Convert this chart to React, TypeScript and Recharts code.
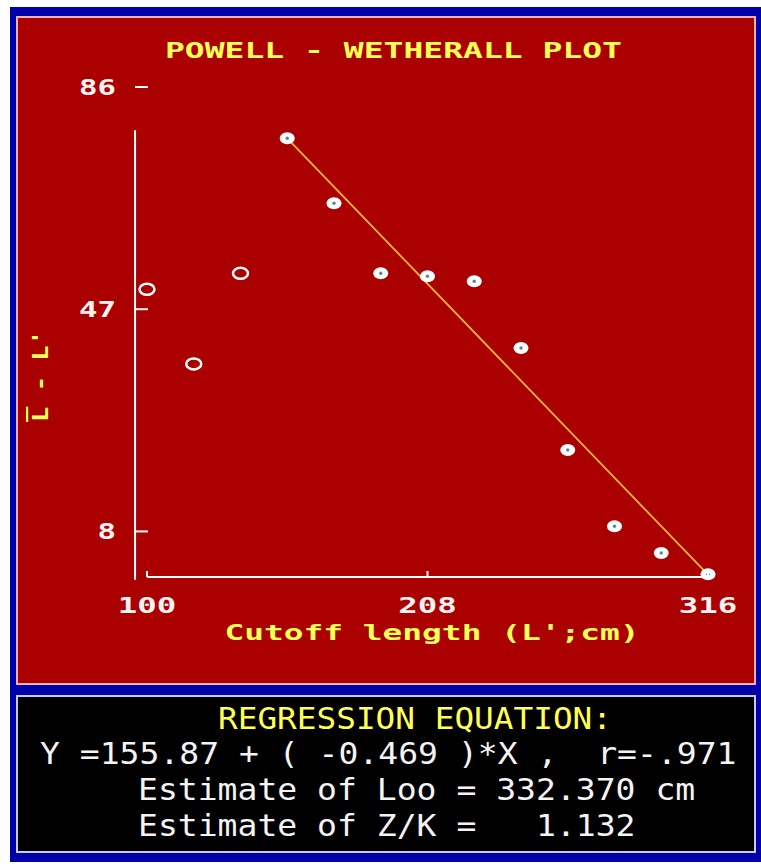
import React from "react";
import { ScatterChart, Scatter, XAxis, YAxis, ReferenceLine } from "recharts";

// Powell-Wetherall plot: mean length above cutoff minus cutoff vs cutoff length.
const cutoffLengths = [100, 118, 136, 154, 172, 190, 208, 226, 244, 262, 280, 298, 316];
const meanMinusCutoff = [50.5, 37.4, 53.3, 77.0, 65.6, 53.3, 52.8, 51.9, 40.2, 22.3, 8.9, 4.2, 0.5];
const usedInFit = [false, false, false, true, true, true, true, true, true, true, true, true, true];

const xTicks = [100, 208, 316];
const yTicks = [8, 47, 86];

// fitted line end points as drawn on the plot
const fitX = [154, 316];
const fitY = [77.0, 0.4];

const equationLines = [
  "Y =155.87 + ( -0.469 )*X ,  r=-.971",
  "Estimate of Loo = 332.370 cm",
  "Estimate of Z/K =   1.132",
];

const RED = "#aa0000";
const YELLOW = "#ffff55";
const DOS_FONT = "'DejaVu Sans Mono', monospace";

const points = cutoffLengths.map((x, i) => ({ x, y: meanMinusCutoff[i], used: usedInFit[i] }));
const excluded = points.filter((p) => !p.used);
const included = points.filter((p) => p.used);
const fitLine = fitX.map((x, i) => ({ x, y: fitY[i] }));

const HollowDot = (props: any) => {
  const { cx, cy } = props;
  return <ellipse cx={cx} cy={cy} rx={7.5} ry={5.5} fill="none" stroke="#fff" strokeWidth={2.5} />;
};

const FilledDot = (props: any) => {
  const { cx, cy } = props;
  return (
    <g>
      <ellipse cx={cx} cy={cy} rx={7.5} ry={6} fill="#fff" />
      <circle cx={cx} cy={cy} r={1.7} fill="#5f8787" />
    </g>
  );
};

const XTick = (props: any) => {
  const { x, y, payload } = props;
  const label = String(payload.value);
  return (
    <g>
      <line x1={x} x2={x} y1={y} y2={y - 6} stroke="#fff" strokeWidth={2} />
      <text
        x={x}
        y={y + 36}
        textAnchor="middle"
        textLength={label.length * 19.5}
        lengthAdjust="spacingAndGlyphs"
        fill="#fff4f4"
        fontFamily={DOS_FONT}
        fontWeight="bold"
        fontSize={21}
      >
        {label}
      </text>
    </g>
  );
};

const YTick = (props: any) => {
  const { x, y, payload } = props;
  const label = String(payload.value);
  return (
    <g>
      <text
        x={x - 31}
        y={y + 8}
        textAnchor="end"
        textLength={label.length * 18.5}
        lengthAdjust="spacingAndGlyphs"
        fill="#fff4f4"
        fontFamily={DOS_FONT}
        fontWeight="bold"
        fontSize={21}
      >
        {label}
      </text>
      <line x1={x - 12} x2={x + 1} y1={y} y2={y} stroke="#fff" strokeWidth={2} />
    </g>
  );
};

export default function App() {
  return (
    <div style={{ position: "absolute", left: 0, top: 0, width: 761, height: 868, background: "#fff" }}>
      <div style={{ position: "absolute", left: 10, top: 7, width: 751, height: 855, background: "#0000aa" }} />
      <div
        style={{
          position: "absolute",
          left: 16,
          top: 16,
          width: 740,
          height: 669,
          boxSizing: "border-box",
          background: RED,
          border: "2px solid #f4b0b0",
        }}
      />
      <div
        style={{
          position: "absolute",
          left: 16,
          top: 695,
          width: 740,
          height: 158,
          boxSizing: "border-box",
          background: "#000",
          border: "2px solid #c8c8f0",
        }}
      />

      <div style={{ position: "absolute", left: 0, top: 0 }}>
        <ScatterChart width={761} height={690} margin={{ top: 87, right: 53, bottom: 83, left: 87 }}>
          <XAxis
            type="number"
            dataKey="x"
            domain={[100, 316]}
            ticks={xTicks}
            interval={0}
            height={30}
            tickSize={0}
            tickMargin={0}
            axisLine={{ stroke: "#fff", strokeWidth: 2 }}
            tickLine={false}
            tick={<XTick />}
          />
          <YAxis
            type="number"
            dataKey="y"
            domain={[0, 86]}
            ticks={yTicks}
            interval={0}
            width={60}
            tickSize={0}
            tickMargin={0}
            axisLine={false}
            tickLine={false}
            tick={<YTick />}
          />
          <ReferenceLine
            segment={[
              { x: 95.4, y: -0.5 },
              { x: 95.4, y: 78.4 },
            ]}
            stroke="#fff"
            strokeWidth={2}
            ifOverflow="visible"
          />
          <Scatter
            data={fitLine}
            line={{ stroke: "#f2b632", strokeWidth: 1.8 }}
            shape={() => <g />}
            isAnimationActive={false}
          />
          <Scatter data={excluded} shape={<HollowDot />} isAnimationActive={false} />
          <Scatter data={included} shape={<FilledDot />} isAnimationActive={false} />
        </ScatterChart>
      </div>

      <svg
        width={761}
        height={868}
        style={{ position: "absolute", left: 0, top: 0, pointerEvents: "none" }}
      >
        <text
          x={393.5}
          y={58}
          textAnchor="middle"
          textLength={457}
          lengthAdjust="spacingAndGlyphs"
          fill={YELLOW}
          fontFamily={DOS_FONT}
          fontWeight="bold"
          fontSize={21}
        >
          POWELL - WETHERALL PLOT
        </text>
        <text
          x={432}
          y={640}
          textAnchor="middle"
          textLength={415}
          lengthAdjust="spacingAndGlyphs"
          fill={YELLOW}
          fontFamily={DOS_FONT}
          fontWeight="bold"
          fontSize={21}
          style={{ whiteSpace: "pre" }}
        >
          Cutoff length (L';cm)
        </text>
        <text
          transform="translate(48, 376) rotate(-90)"
          textAnchor="middle"
          textLength={92}
          lengthAdjust="spacingAndGlyphs"
          fill={YELLOW}
          fontFamily={DOS_FONT}
          fontWeight="bold"
          fontSize={22}
          style={{ whiteSpace: "pre" }}
        >
          <tspan textDecoration="overline">L</tspan> - L'
        </text>

        <text
          x={415}
          y={729}
          textAnchor="middle"
          textLength={394}
          lengthAdjust="spacingAndGlyphs"
          fill={YELLOW}
          fontFamily={DOS_FONT}
          fontSize={30}
        >
          REGRESSION EQUATION:
        </text>
        {equationLines.map((line, i) => (
          <text
            key={i}
            x={i === 0 ? 40 : 138}
            y={764 + i * 36}
            textLength={line.length * 19.9}
            lengthAdjust="spacingAndGlyphs"
            fill="#f4f4f4"
            fontFamily={DOS_FONT}
            fontSize={30}
            style={{ whiteSpace: "pre" }}
          >
            {line}
          </text>
        ))}
      </svg>
    </div>
  );
}
